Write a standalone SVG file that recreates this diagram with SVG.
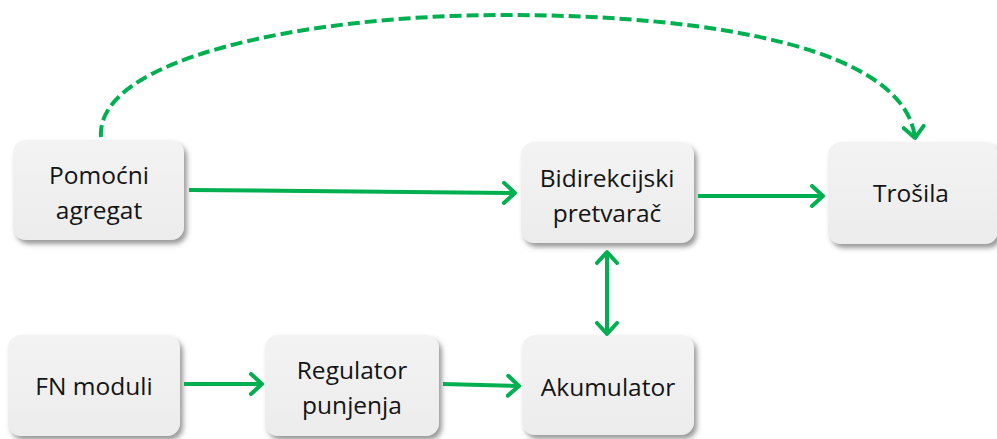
<svg xmlns="http://www.w3.org/2000/svg" width="997" height="439" viewBox="0 0 997 439">
<defs>
<filter id="sh" x="-10%" y="-10%" width="130%" height="130%">
<feDropShadow dx="3" dy="4" stdDeviation="2.5" flood-color="#555" flood-opacity="0.6"/>
</filter>
<linearGradient id="bg" x1="0" y1="0" x2="0" y2="1">
<stop offset="0" stop-color="#f3f3f3"/>
<stop offset="1" stop-color="#ececec"/>
</linearGradient>
<marker id="ah" markerUnits="userSpaceOnUse" markerWidth="16" markerHeight="24" refX="13" refY="12" orient="auto-start-reverse">
<path d="M2,2 L13,12 L2,22" fill="none" stroke="#00b050" stroke-width="4" stroke-linecap="round" stroke-linejoin="round"/>
</marker>
</defs>
<style>
.box{fill:url(#bg);filter:url(#sh);}
.t{font-family:"Open Sans","Liberation Sans",sans-serif;font-size:24.5px;fill:#141414;text-anchor:middle;}
.c{fill:none;stroke:#00b050;stroke-width:4;}
.d{stroke-dasharray:12 5;}
</style>
<g id="n-pomocni">
<rect class="box" x="13" y="140" width="171" height="100" rx="13"/>
<text class="t" x="99" y="184">Pomoćni</text>
<text class="t" x="99" y="219">agregat</text>
</g>
<g id="n-bidir">
<rect class="box" x="521" y="142" width="173" height="101" rx="13"/>
<text class="t" x="607" y="187">Bidirekcijski</text>
<text class="t" x="607" y="222">pretvarač</text>
</g>
<g id="n-trosila">
<rect class="box" x="828" y="142" width="170" height="102" rx="13"/>
<text class="t" x="911" y="202">Trošila</text>
</g>
<g id="n-fn">
<rect class="box" x="8" y="335" width="172" height="101" rx="13"/>
<text class="t" x="94" y="395">FN moduli</text>
</g>
<g id="n-reg">
<rect class="box" x="265" y="335" width="174" height="101" rx="13"/>
<text class="t" x="352" y="379">Regulator</text>
<text class="t" x="352" y="414">punjenja</text>
</g>
<g id="n-aku">
<rect class="box" x="522" y="335" width="172" height="100" rx="13"/>
<text class="t" x="608" y="396">Akumulator</text>
</g>
<g id="connectors">
<path class="c" d="M189,190 L515,193" marker-end="url(#ah)"/>
<path class="c" d="M698,196 L823,196" marker-end="url(#ah)"/>
<path class="c" d="M184,384 L262,384" marker-end="url(#ah)"/>
<path class="c" d="M443,384 L519,386" marker-end="url(#ah)"/>
<path class="c" d="M607,252 L607,334" marker-start="url(#ah)" marker-end="url(#ah)"/>
<path class="c d" d="M101,137 C95,60 300,15 505,15 C720,15 905,50 915,138" marker-end="url(#ah)"/>
</g>
</svg>
